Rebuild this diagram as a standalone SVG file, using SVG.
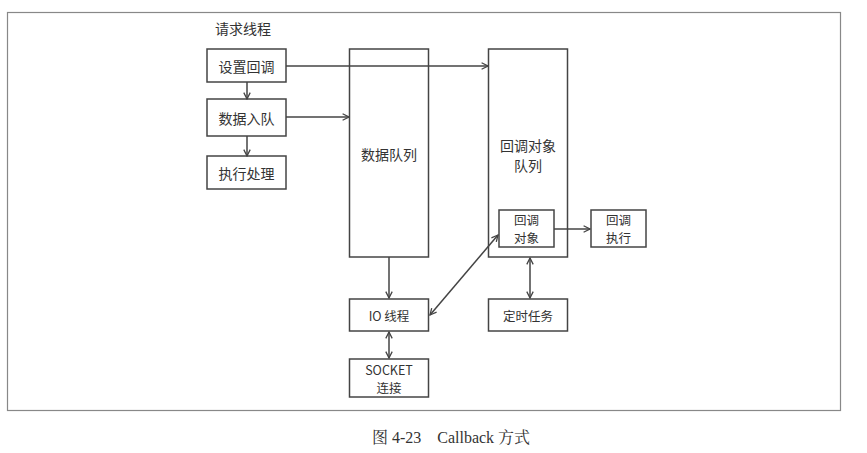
<svg xmlns="http://www.w3.org/2000/svg" width="867" height="453" viewBox="0 0 867 453">
<defs>
<marker id="ah" viewBox="0 0 10 10" refX="9" refY="5" markerWidth="8" markerHeight="8" markerUnits="userSpaceOnUse" orient="auto-start-reverse">
<path d="M1,1 L9,5 L1,9" fill="none" stroke="#444" stroke-width="1.6"/>
</marker>
</defs>
<style>
.box{fill:#fff;stroke:#444;stroke-width:1.5}
.t{font-family:"Noto Sans CJK SC","Noto Sans",sans-serif;font-size:14px;fill:#333;text-anchor:middle;dominant-baseline:central}
.s{font-size:12.5px}
.c{fill:none;stroke:#444;stroke-width:1.5}
.cap{font-family:"Liberation Serif","Noto Serif CJK SC","Noto Sans CJK SC",serif;font-size:16px;fill:#333;text-anchor:middle}
</style>
<rect width="867" height="453" fill="#fff"/>
<rect x="7.5" y="12.5" width="833" height="398" fill="none" stroke="#888" stroke-width="1.2"/>
<text class="t" x="243" y="28">请求线程</text>
<g id="n-set"><rect class="box" x="207" y="49" width="79" height="33"/><text class="t" x="246.5" y="65.5">设置回调</text></g>
<g id="n-enq"><rect class="box" x="207" y="99" width="79" height="37"/><text class="t" x="246.5" y="117.5">数据入队</text></g>
<g id="n-exec"><rect class="box" x="207" y="156" width="79" height="33"/><text class="t" x="246.5" y="172.5">执行处理</text></g>
<g id="n-dq"><rect class="box" x="349.5" y="49" width="79" height="208"/><text class="t" x="389" y="154">数据队列</text></g>
<g id="n-cq"><rect class="box" x="488.5" y="49" width="79" height="208"/><text class="t" x="528" y="145">回调对象</text><text class="t" x="528" y="165">队列</text></g>
<g id="n-cobj"><rect class="box" x="499" y="210" width="55" height="37"/><text class="t s" x="526.5" y="219.5">回调</text><text class="t s" x="526.5" y="237.5">对象</text></g>
<g id="n-cexec"><rect class="box" x="591" y="210" width="55" height="37"/><text class="t s" x="618.5" y="219.5">回调</text><text class="t s" x="618.5" y="237.5">执行</text></g>
<g id="n-io"><rect class="box" x="349.5" y="299" width="79" height="32"/><text class="t s" x="389" y="315.5">IO 线程</text></g>
<g id="n-timer"><rect class="box" x="488.5" y="299" width="79" height="32"/><text class="t s" x="528" y="315.5">定时任务</text></g>
<g id="n-sock"><rect class="box" x="349.5" y="359" width="79" height="38"/><text class="t s" x="389" y="369">SOCKET</text><text class="t s" x="389" y="387.5">连接</text></g>
<g id="connectors">
<line class="c" x1="286" y1="66" x2="488" y2="66" marker-end="url(#ah)"/>
<line class="c" x1="286" y1="117" x2="349" y2="117" marker-end="url(#ah)"/>
<line class="c" x1="247" y1="82" x2="247" y2="99" marker-end="url(#ah)"/>
<line class="c" x1="247" y1="136" x2="247" y2="156" marker-end="url(#ah)"/>
<line class="c" x1="554" y1="229" x2="590" y2="229" marker-end="url(#ah)"/>
<line class="c" x1="389" y1="257" x2="389" y2="298" marker-end="url(#ah)"/>
<line class="c" x1="530" y1="258" x2="530" y2="298" marker-start="url(#ah)" marker-end="url(#ah)"/>
<line class="c" x1="430" y1="315" x2="498" y2="235" marker-start="url(#ah)" marker-end="url(#ah)"/>
<line class="c" x1="389" y1="332" x2="389" y2="358" marker-start="url(#ah)" marker-end="url(#ah)"/>
</g>
<text class="cap" x="451" y="443" xml:space="preserve">图 4-23    Callback 方式</text>
</svg>
